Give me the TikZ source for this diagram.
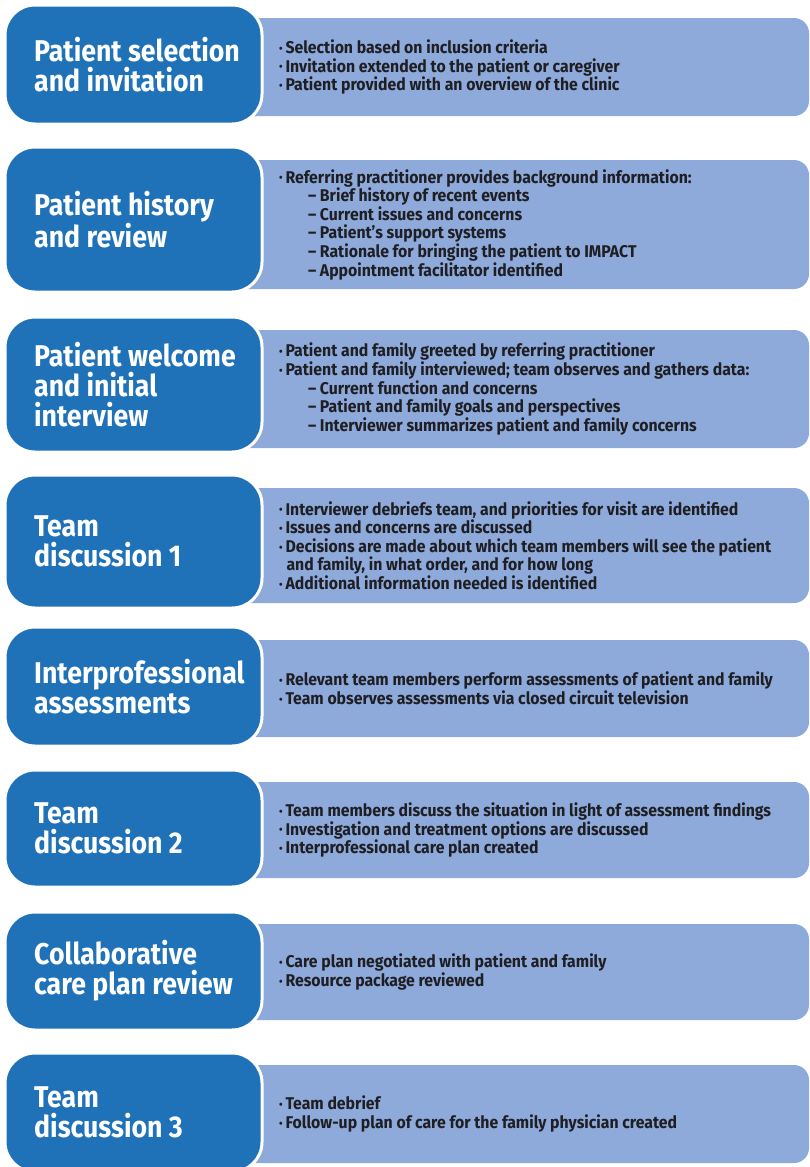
\documentclass[tikz,border=0pt]{standalone}
\usepackage{fontspec}
\usepackage{tikz}
\usetikzlibrary{positioning}

\newfontfamily\headfont[FakeStretch=0.89]{Fira Sans}
\newfontfamily\listfont[FakeStretch=0.93]{Fira Sans}

\definecolor{stageblue}{RGB}{31,114,184}
\definecolor{notesblue}{RGB}{142,170,219}
\definecolor{inkgrey}{RGB}{30,30,35}

\newcommand{\bul}{\makebox[6.5pt][l]{\raisebox{1.2pt}{\fontsize{11}{11}\selectfont\textbullet}}}
\newcommand{\dashitem}{\hspace*{29pt}\textendash\ }

\tikzset{
	stepbox/.style={rectangle, rounded corners=30pt, fill=stageblue, draw=white, line width=3pt, outer sep=0pt, inner sep=0pt, minimum width=257pt},
	infobox/.style={rectangle, rounded corners=15pt, fill=notesblue, inner sep=0pt, minimum width=579pt},
	steptitle/.style={anchor=west, inner sep=0pt, align=left, text=white, font=\headfont\bfseries\fontsize{30}{30}\selectfont},
	infolist/.style={anchor=west, inner sep=0pt, align=left, text=inkgrey, font=\listfont\bfseries\fontsize{17}{18.6}\selectfont}
}

\begin{document}
\begin{tikzpicture}[x=1pt,y=-1pt]
		
		\useasboundingbox (0,0) rectangle (809,1167);
		
		% Detail panels (behind)
		
		\node[infobox, minimum height=98pt]
		(info1) at (519.5,67) {};
		\node[infobox, minimum height=129pt]
		(info2) at (519.5,224.5) {};
		\node[infobox, minimum height=118pt]
		(info3) at (519.5,389) {};
		\node[infobox, minimum height=115pt]
		(info4) at (519.5,545.5) {};
		\node[infobox, minimum height=97pt]
		(info5) at (519.5,688.5) {};
		\node[infobox, minimum height=96pt]
		(info6) at (519.5,830) {};
		\node[infobox, minimum height=96pt]
		(info7) at (519.5,972) {};
		\node[infobox, minimum height=98pt]
		(info8) at (519.5,1114) {};
		
		% Steps
		
		\node[stepbox, minimum height=119pt]
		(step1) at (133.5,64.5) {};
		\node[stepbox, minimum height=145pt]
		(step2) at (133.5,219.5) {};
		\node[stepbox, minimum height=135pt]
		(step3) at (133.5,384.5) {};
		\node[stepbox, minimum height=133pt]
		(step4) at (133.5,541.5) {};
		\node[stepbox, minimum height=119pt]
		(step5) at (133.5,686.5) {};
		\node[stepbox, minimum height=117pt]
		(step6) at (133.5,828.5) {};
		\node[stepbox, minimum height=118pt]
		(step7) at (133.5,971) {};
		\node[stepbox, minimum height=119pt]
		(step8) at (133.5,1112.5) {};
		
		% Titles
		
		\node[steptitle, right=29pt of step1.west] (title1) {Patient selection\\and invitation};
		\node[steptitle, right=29pt of step2.west] (title2) {Patient history\\and review};
		\node[steptitle, right=29pt of step3.west] (title3) {Patient welcome\\and initial\\interview};
		\node[steptitle, right=29pt of step4.west] (title4) {Team\\discussion 1};
		\node[steptitle, right=29pt of step5.west] (title5) {Interprofessional\\assessments};
		\node[steptitle, right=29pt of step6.west] (title6) {Team\\discussion 2};
		\node[steptitle, right=29pt of step7.west] (title7) {Collaborative\\care plan review};
		\node[steptitle, right=29pt of step8.west] (title8) {Team\\discussion 3};
		
		% Lists
		
		\node[infolist, right=49pt of info1.west] (items1) {%
			\bul Selection based on inclusion criteria\\
			\bul Invitation extended to the patient or caregiver\\
			\bul Patient provided with an overview of the clinic};
		
		\node[infolist, right=49pt of info2.west] (items2) {%
			\bul Referring practitioner provides background information:\\
			\dashitem Brief history of recent events\\
			\dashitem Current issues and concerns\\
			\dashitem Patient’s support systems\\
			\dashitem Rationale for bringing the patient to IMPACT\\
			\dashitem Appointment facilitator identified};
		
		\node[infolist, right=49pt of info3.west] (items3) {%
			\bul Patient and family greeted by referring practitioner\\
			\bul Patient and family interviewed; team observes and gathers data:\\
			\dashitem Current function and concerns\\
			\dashitem Patient and family goals and perspectives\\
			\dashitem Interviewer summarizes patient and family concerns};
		
		\node[infolist, right=49pt of info4.west] (items4) {%
			\bul Interviewer debriefs team, and priorities for visit are identified\\
			\bul Issues and concerns are discussed\\
			\bul Decisions are made about which team members will see the patient\\
			\hspace*{7.5pt}and family, in what order, and for how long\\
			\bul Additional information needed is identified};
		
		\node[infolist, right=49pt of info5.west] (items5) {%
			\bul Relevant team members perform assessments of patient and family\\
			\bul Team observes assessments via closed circuit television};
		
		\node[infolist, right=49pt of info6.west] (items6) {%
			\bul Team members discuss the situation in light of assessment findings\\
			\bul Investigation and treatment options are discussed\\
			\bul Interprofessional care plan created};
		
		\node[infolist, right=49pt of info7.west] (items7) {%
			\bul Care plan negotiated with patient and family\\
			\bul Resource package reviewed};
		
		\node[infolist, right=49pt of info8.west] (items8) {%
			\bul Team debrief\\
			\bul Follow-up plan of care for the family physician created};
		
	\end{tikzpicture}
\end{document}
